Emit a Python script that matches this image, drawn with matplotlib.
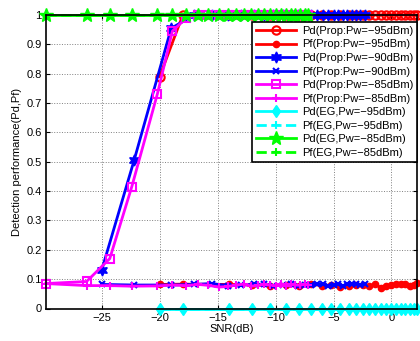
import matplotlib
matplotlib.use("Agg")
import matplotlib.pyplot as plt

plt.rcParams["font.family"] = ["Liberation Sans", "DejaVu Sans"]
plt.rcParams["font.size"] = 8

# SNR grids (dB) for the three noise powers
snr_85 = [-29.8, -26.3, -24.3, -22.4, -20.2, -18.9, -17.7, -16.7, -15.8, -14.9, -14.1,
          -13.4, -12.7, -12.1, -11.5, -11.0, -10.5, -10.0, -9.5, -9.1, -8.7, -8.3,
          -7.9, -7.5, -7.2]
snr_90 = [-25.0, -22.2, -19.0, -17.0, -15.5, -14.1, -13.0, -11.9, -11.0, -10.2, -9.4,
          -8.7, -8.1, -7.5, -6.9, -6.4, -5.9, -5.5, -5.0, -4.6, -4.2, -3.8, -3.4,
          -3.1, -2.7, -2.3]
snr_95 = [-20.0, -18.0, -14.0, -12.0, -10.5, -9.1, -8.0, -6.9, -6.0, -5.2, -4.4, -3.7,
          -3.1, -2.5, -1.9, -1.4, -0.9, -0.5, 0.0, 0.4, 0.8, 1.2, 1.6, 1.9, 2.2]

# proposed detector
pd_prop_95 = [0.79] + [1.0] * 24
pf_prop_95 = [0.082, 0.083, 0.082, 0.080, 0.078, 0.080, 0.075, 0.082, 0.078, 0.080, 0.072,
              0.078, 0.080, 0.081, 0.078, 0.083, 0.070, 0.078, 0.080, 0.085, 0.082,
              0.083, 0.078, 0.080, 0.088]
pd_prop_90 = [0.13, 0.505, 0.955] + [1.0] * 23
pf_prop_90 = [0.082, 0.080, 0.080, 0.082, 0.085, 0.078, 0.080, 0.082, 0.083, 0.078, 0.080,
              0.082, 0.078, 0.080, 0.081, 0.082, 0.083, 0.078, 0.080, 0.082, 0.078,
              0.082, 0.085, 0.083, 0.080, 0.082]
pd_prop_85 = [0.085, 0.092, 0.17, 0.415, 0.73, 0.945, 0.99] + [1.0] * 18
pf_prop_85 = [0.085, 0.078, 0.078, 0.076, 0.077, 0.080, 0.078, 0.082, 0.079, 0.073, 0.075,
              0.080, 0.083, 0.076, 0.079, 0.082, 0.080, 0.078, 0.084, 0.078, 0.082,
              0.080, 0.079, 0.083, 0.081]

# energy detector
pd_eg_95 = [0.0] * 25
pf_eg_95 = [0.0] * 25
pd_eg_85 = [1.0] * 25
pf_eg_85 = [1.0] * 25

labels = ["Pd(Prop:Pw=\u221295dBm)", "Pf(Prop:Pw=\u221295dBm)",
          "Pd(Prop:Pw=\u221290dBm)", "Pf(Prop:Pw=\u221290dBm)",
          "Pd(Prop:Pw=\u221285dBm)", "Pf(Prop:Pw=\u221285dBm)",
          "Pd(EG,Pw=\u221295dBm)", "Pf(EG,Pw=\u221295dBm)",
          "Pd(EG,Pw=\u221285dBm)", "Pf(EG,Pw=\u221285dBm)"]

R, B, M, C, G = "#ff0000", "#0000ff", "#ff00ff", "#00ffff", "#00ff00"
hexagram = (6, 1, 0)

fig = plt.figure(figsize=(4.2, 3.41), dpi=100)
ax = fig.add_axes([46 / 420, 32.5 / 341, 371 / 420, 293.5 / 341])

kw = dict(lw=2, clip_on=False)
ax.plot(snr_95, pd_prop_95, ls="-", marker="o", color=R, ms=6, mfc="none", mew=1.5, label=labels[0], **kw)
ax.plot(snr_95, pf_prop_95, ls="-", marker=".", color=R, ms=9, label=labels[1], **kw)
ax.plot(snr_90, pd_prop_90, ls="-", marker=hexagram, color=B, ms=8, label=labels[2], **kw)
ax.plot(snr_90, pf_prop_90, ls="-", marker="x", color=B, ms=4, mew=1.5, label=labels[3], **kw)
ax.plot(snr_85, pd_prop_85, ls="-", marker="s", color=M, ms=6, mfc="none", mew=1.5, label=labels[4], **kw)
ax.plot(snr_85, pf_prop_85, ls="-", marker="+", color=M, ms=6, mew=1.5, label=labels[5], **kw)
ax.plot(snr_95, pd_eg_95, ls="-", marker="d", color=C, ms=6.5, mfc=C, label=labels[6], **kw)
ax.plot(snr_95, pf_eg_95, ls="--", marker="+", color=C, ms=6, mew=1.5, label=labels[7], **kw)
ax.plot(snr_85, pd_eg_85, ls="-", marker="*", color=G, ms=10, label=labels[8], **kw)
ax.plot(snr_85, pf_eg_85, ls="--", marker="+", color=G, ms=6, mew=1.5, label=labels[9], **kw)

ax.set_xlim(-29.8, 2.2)
ax.set_ylim(0, 1)
ax.set_xticks([-25, -20, -15, -10, -5, 0])
ax.set_yticks([0, 0.1, 0.2, 0.3, 0.4, 0.5, 0.6, 0.7, 0.8, 0.9, 1])
ax.set_yticklabels(["0", "0.1", "0.2", "0.3", "0.4", "0.5", "0.6", "0.7", "0.8", "0.9", "1"])
ax.tick_params(direction="in", top=True, right=True, length=3, width=0.8, pad=3)
ax.grid(True, ls=":", color="0.5", lw=0.7)
for s in ax.spines.values():
    s.set_linewidth(1.2)
ax.set_xlabel("SNR(dB)", labelpad=1)
ax.set_ylabel("Detection performance(Pd,Pf)", labelpad=3)

leg = ax.legend(loc="upper right", bbox_to_anchor=(1.0, 1 - 7 / 294), borderaxespad=0,
                fancybox=False, framealpha=1, edgecolor="k", handlelength=3.6,
                labelspacing=0.32, borderpad=0.35, handletextpad=0.5, fontsize=8)
leg.get_frame().set_linewidth(1.2)
leg.set_zorder(5)

fig.savefig("out.png", dpi=100)
